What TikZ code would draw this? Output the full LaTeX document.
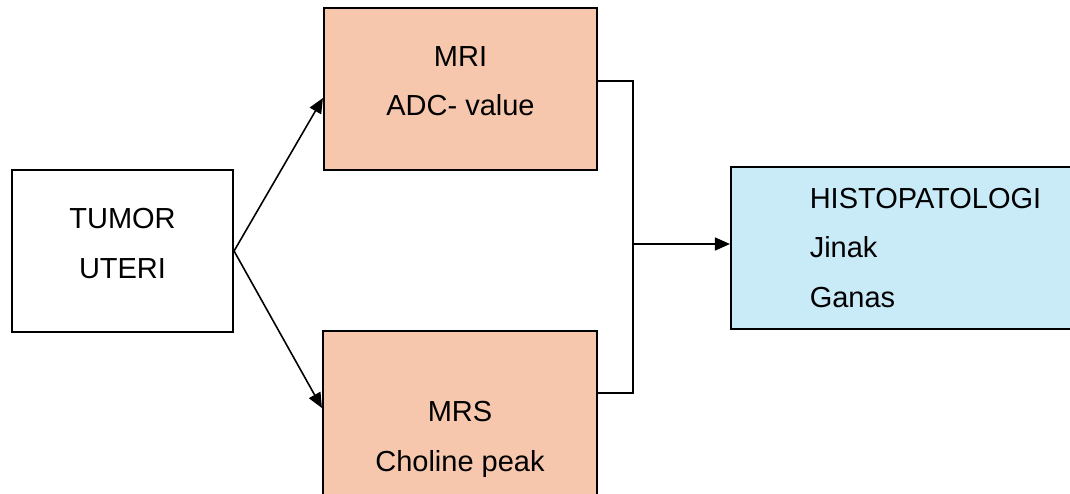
\documentclass[tikz,border=0pt]{standalone}
\usepackage{fontspec}
\setmainfont{Liberation Sans}
\usetikzlibrary{arrows.meta}
\definecolor{peach}{HTML}{F6C7AD}
\definecolor{skyfill}{HTML}{C9EBF7}
\begin{document}
\begin{tikzpicture}[y=-1cm]
			\tikzstyle{box} = [draw, line width=0.6pt, rectangle, align=center, inner sep=0pt, font=\fontsize{8.25}{14.2}\selectfont]
			\tikzstyle{lift} = [text depth=0.16cm]
			\tikzstyle{con} = [line width=0.45pt]
			\tikzstyle{tip} = [-{Triangle[length=0.15cm,width=0.13cm]}]
			\useasboundingbox (0,0) rectangle (10.70,4.93);

			\node [box,lift,minimum width=2.21cm,minimum height=1.62cm] (tumor) at (1.225,2.51) {TUMOR\\UTERI};
			\node [box,lift,fill=peach,minimum width=2.73cm,minimum height=1.62cm] (mri) at (4.605,0.89) {MRI\\ADC- value};
			\node [box,lift,fill=peach,minimum width=2.74cm,minimum height=2.26cm] (mrs) at (4.60,4.44) {MRS\\Choline peak};
			\node [box,fill=skyfill,align=left,minimum width=3.89cm,minimum height=1.62cm] (hist) at (9.255,2.48) {HISTOPATOLOGI\\Jinak\\Ganas};

			\coordinate (jtop) at (6.33,0.81);
			\coordinate (jbot) at (6.33,3.93);
			\coordinate (jn) at (6.33,2.44);

			\draw [con,tip] (tumor.east) -- ([yshift=-0.09cm]mri.west);
			\draw [con,tip] (tumor.east) -- ([yshift=0.36cm]mrs.west);

			\draw [con] (mri.east |- jtop) -- (jtop) -- (jbot) -- (mrs.east |- jbot);
			\draw [con,tip] (jn) -- (jn -| hist.west);

		\end{tikzpicture}
\end{document}
